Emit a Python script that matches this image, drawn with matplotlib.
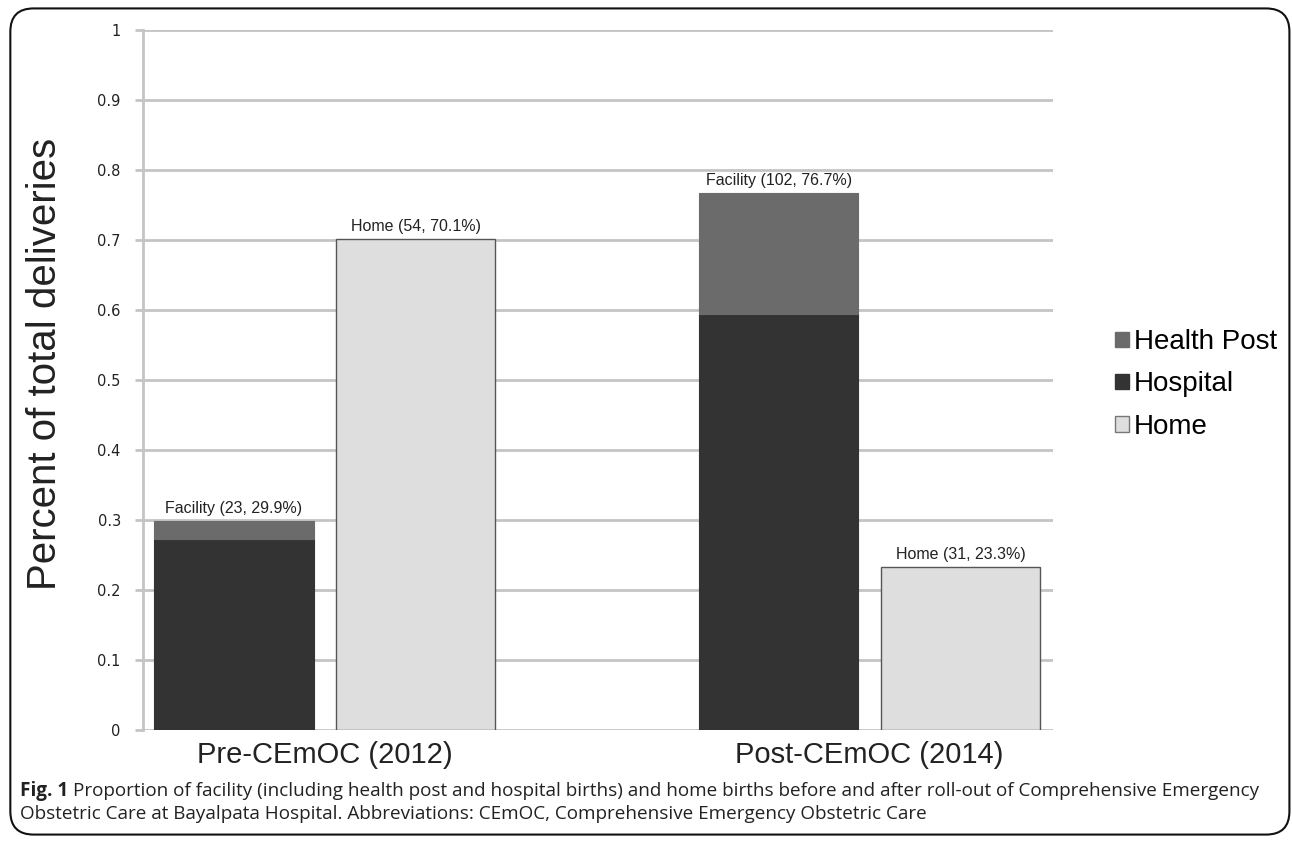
import matplotlib.pyplot as plt
from matplotlib.patches import FancyBboxPatch, Patch
import numpy as np

groups = ['Pre-CEmOC (2012)', 'Post-CEmOC (2014)']
hospital = [0.273, 0.594]
health_post = [0.026, 0.173]
home = [0.701, 0.233]
facility_labels = ['Facility (23, 29.9%)', 'Facility (102, 76.7%)']
home_labels = ['Home (54, 70.1%)', 'Home (31, 23.3%)']
yticks = [0, 0.1, 0.2, 0.3, 0.4, 0.5, 0.6, 0.7, 0.8, 0.9, 1]
ytick_labels = ['0', '0.1', '0.2', '0.3', '0.4', '0.5', '0.6', '0.7', '0.8', '0.9', '1']

c_hp = '#6b6b6b'
c_hosp = '#333333'
c_home = '#dedede'

fig = plt.figure(figsize=(12.92, 8.43), dpi=100)
ax = fig.add_axes([0.1107, 0.134, 0.704, 0.8304])

x = np.arange(len(groups))
off = 0.167
w = 0.292
fac = np.array(hospital) + np.array(health_post)

ax.bar(x - off, hospital, w, color=c_hosp, edgecolor=c_hosp, linewidth=0.8, zorder=3)
ax.bar(x - off, health_post, w, bottom=hospital, color=c_hp, edgecolor=c_hp, linewidth=0.8, zorder=3)
ax.bar(x + off, home, w, color=c_home, edgecolor='#555555', linewidth=1.0, zorder=3)

for i in range(len(groups)):
    ax.text(x[i] - off, fac[i] + 0.007, facility_labels[i], ha='center', va='bottom',
            fontsize=11.5, color='#222222', family='Liberation Sans')
    ax.text(x[i] + off, home[i] + 0.007, home_labels[i], ha='center', va='bottom',
            fontsize=11.5, color='#222222', family='Liberation Sans')

ax.set_xlim(-0.334, 1.336)
ax.set_ylim(0, 1)
ax.set_yticks(yticks)
ax.set_yticklabels(ytick_labels, fontsize=10.5, family='DejaVu Sans', color='#222222')
ax.set_xticks(x)
ax.set_xticklabels(groups, fontsize=21, family='Liberation Sans', color='#222222')
ax.tick_params(axis='x', length=0, pad=8)
ax.tick_params(axis='y', length=6, width=2, color='#c4c4c4', pad=10)
ax.yaxis.grid(True, color='#c4c4c4', linewidth=2, zorder=0)
ax.set_axisbelow(True)
for s in ['top', 'right', 'bottom']:
    ax.spines[s].set_visible(False)
ax.spines['left'].set_color('#c4c4c4')
ax.spines['left'].set_linewidth(2)

ax.set_ylabel('Percent of total deliveries', fontsize=29, family='Liberation Sans',
              color='#222222', va='center')
ax.yaxis.set_label_coords(-0.108, 0.523)

handles = [Patch(facecolor=c_hp, edgecolor=c_hp, label='Health Post'),
           Patch(facecolor=c_hosp, edgecolor=c_hosp, label='Hospital'),
           Patch(facecolor=c_home, edgecolor='#777777', label='Home')]
fig.legend(handles=handles, loc='center left', bbox_to_anchor=(0.852, 0.544), frameon=False,
           prop={'family': 'Liberation Sans', 'size': 20}, handlelength=0.5, handleheight=0.5,
           handletextpad=0.2, labelspacing=0.58, borderpad=0)

# caption
cap_kw = dict(fontsize=13.6, family='Open Sans', color='#222222', va='baseline')
t1 = fig.text(0.0155, 0.056, 'Fig. 1', fontweight='bold', **cap_kw)
fig.canvas.draw()
bb = t1.get_window_extent()
x1 = (bb.x1 + 5) / fig.bbox.width
fig.text(x1, 0.056, 'Proportion of facility (including health post and hospital births) and home births before and after roll-out of Comprehensive Emergency',
         **cap_kw)
fig.text(0.0155, 0.029, 'Obstetric Care at Bayalpata Hospital. Abbreviations: CEmOC, Comprehensive Emergency Obstetric Care',
         **cap_kw)

box = FancyBboxPatch((0.008, 0.010), 0.990, 0.980, boxstyle='round,pad=0,rounding_size=0.018',
                     transform=fig.transFigure, facecolor='none', edgecolor='#111111',
                     linewidth=1.5, mutation_aspect=1.53)
fig.patches.append(box)

fig.savefig('out.png', dpi=100)
